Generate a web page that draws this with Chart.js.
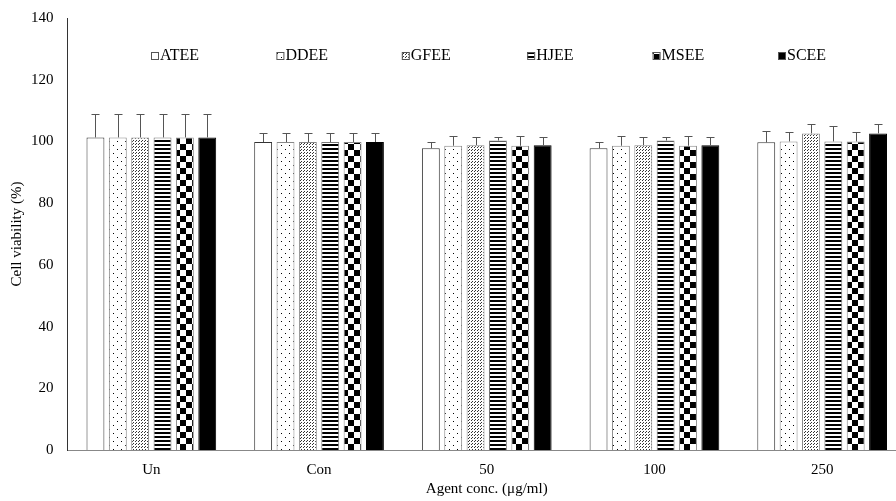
<!DOCTYPE html>
<html>
<head>
<meta charset="utf-8">
<script src="https://cdn.jsdelivr.net/npm/chart.js@4.4.1/dist/chart.umd.min.js"></script>
<style>
  html, body { margin: 0; padding: 0; background: #fff; overflow: hidden; }
  #chart { display: block; }
</style>
</head>
<body>
<canvas id="chart" width="906" height="501"></canvas>
<script>
const categories = ['Un', 'Con', '50', '100', '250'];
const seriesNames = ['ATEE', 'DDEE', 'GFEE', 'HJEE', 'MSEE', 'SCEE'];

const ateeValues = [101.3, 99.8, 97.8, 97.8, 99.7];
const ddeeValues = [101.3, 99.8, 98.6, 98.6, 100.0];
const gfeeValues = [101.3, 99.8, 98.8, 98.8, 102.6];
const hjeeValues = [101.3, 99.8, 100.3, 100.3, 100.0];
const mseeValues = [101.3, 99.8, 98.6, 98.6, 100.0];
const sceeValues = [101.3, 99.8, 98.8, 98.8, 102.6];

const ateeErrors = [7.5, 2.9, 2.1, 2.1, 3.7];
const ddeeErrors = [7.5, 2.9, 3.2, 3.2, 2.9];
const gfeeErrors = [7.5, 2.9, 2.5, 2.5, 3.0];
const hjeeErrors = [7.5, 2.9, 1.0, 1.0, 5.0];
const mseeErrors = [7.5, 2.9, 3.2, 3.2, 2.9];
const sceeErrors = [7.5, 2.9, 2.5, 2.5, 3.0];

const yTicks = [0, 20, 40, 60, 80, 100, 120, 140];

const serif = "'Liberation Serif', 'Times New Roman', serif";

// small tiles for the hatch fills
function makePattern(size, paint) {
  const c = document.createElement('canvas');
  c.width = size;
  c.height = size;
  const g = c.getContext('2d');
  g.fillStyle = '#fff';
  g.fillRect(0, 0, size, size);
  g.fillStyle = '#000';
  paint(g);
  return c.getContext('2d').createPattern(c, 'repeat');
}

const ctx = document.getElementById('chart').getContext('2d');

const fills = [
  '#ffffff',
  makePattern(8, g => { g.fillRect(1, 1, 1, 1); g.fillRect(5, 5, 1, 1); }),
  makePattern(3, g => { g.fillStyle = '#333'; g.fillRect(0, 0, 1, 1); g.fillRect(1, 2, 1, 1); }),
  makePattern(4, g => { g.fillRect(0, 0, 4, 2); }),
  makePattern(12, g => { g.fillRect(0, 0, 6, 6); g.fillRect(6, 6, 6, 6); }),
  '#000000'
];
const borders = ['#333', '#888', '#888', '#777', '#888', '#000'];

const valueSets = [ateeValues, ddeeValues, gfeeValues, hjeeValues, mseeValues, sceeValues];
const errorSets = [ateeErrors, ddeeErrors, gfeeErrors, hjeeErrors, mseeErrors, sceeErrors];

const datasets = seriesNames.map((name, i) => ({
  label: name,
  data: valueSets[i],
  errors: errorSets[i],
  backgroundColor: fills[i],
  borderColor: borders[i],
  borderWidth: 1,
  categoryPercentage: 0.8,
  barPercentage: 0.8
}));

const errorBars = {
  id: 'errorBars',
  afterDatasetsDraw(chart) {
    const c = chart.ctx;
    const y = chart.scales.y;
    c.save();
    c.lineWidth = 1;
    c.strokeStyle = '#555';
    chart.data.datasets.forEach((ds, di) => {
      chart.getDatasetMeta(di).data.forEach((bar, j) => {
        const top = y.getPixelForValue(ds.data[j] + ds.errors[j]);
        const x = Math.round(bar.x) + 0.5;
        c.beginPath();
        c.moveTo(x, bar.y);
        c.lineTo(x, Math.round(top) + 0.5);
        c.moveTo(x - 4, Math.round(top) + 0.5);
        c.lineTo(x + 4, Math.round(top) + 0.5);
        c.stroke();
      });
    });
    c.restore();
  }
};

// legend drawn inside the plot area, one row
const insideLegend = {
  id: 'insideLegend',
  afterDraw(chart) {
    const c = chart.ctx;
    c.save();
    c.font = '16px ' + serif;
    c.textBaseline = 'middle';
    chart.data.datasets.forEach((ds, i) => {
      const bx = 151 + i * 125.4;
      const by = 52;
      c.fillStyle = ds.backgroundColor;
      c.fillRect(bx, by, 7, 7);
      c.strokeStyle = '#555';
      c.lineWidth = 1;
      c.strokeRect(bx + 0.5, by + 0.5, 7, 7);
      c.fillStyle = '#000';
      c.fillText(ds.label, bx + 9, 56);
    });
    c.restore();
  }
};

new Chart(ctx, {
  type: 'bar',
  data: { labels: categories, datasets },
  options: {
    responsive: false,
    animation: false,
    layout: { padding: { top: 18, left: 0, right: 0, bottom: 0 } },
    plugins: {
      legend: { display: false },
      tooltip: { enabled: false }
    },
    scales: {
      x: {
        grid: { display: false, drawTicks: false },
        border: { display: true, color: '#888', width: 1 },
        ticks: { color: '#000', font: { family: serif, size: 15 }, padding: 11 },
        title: {
          display: true,
          text: 'Agent conc. (μg/ml)',
          color: '#000',
          font: { family: serif, size: 15 },
          padding: { top: 0, bottom: 3 }
        },
        afterFit: s => { s.height = 51; s.paddingLeft = 0; s.paddingRight = 0; }
      },
      y: {
        min: 0,
        max: 140,
        afterBuildTicks: s => { s.ticks = yTicks.map(v => ({ value: v })); },
        grid: { display: false, drawTicks: false },
        border: { display: true, color: '#333', width: 1 },
        ticks: { color: '#000', font: { family: serif, size: 15 }, padding: 14 },
        title: {
          display: true,
          text: 'Cell viability (%)',
          color: '#000',
          font: { family: serif, size: 15 },
          padding: { top: 8, bottom: 0 }
        },
        afterFit: s => { s.width = 67.5; s.paddingTop = 0; s.paddingBottom = 0; }
      }
    }
  },
  plugins: [errorBars, insideLegend]
});
</script>
</body>
</html>
